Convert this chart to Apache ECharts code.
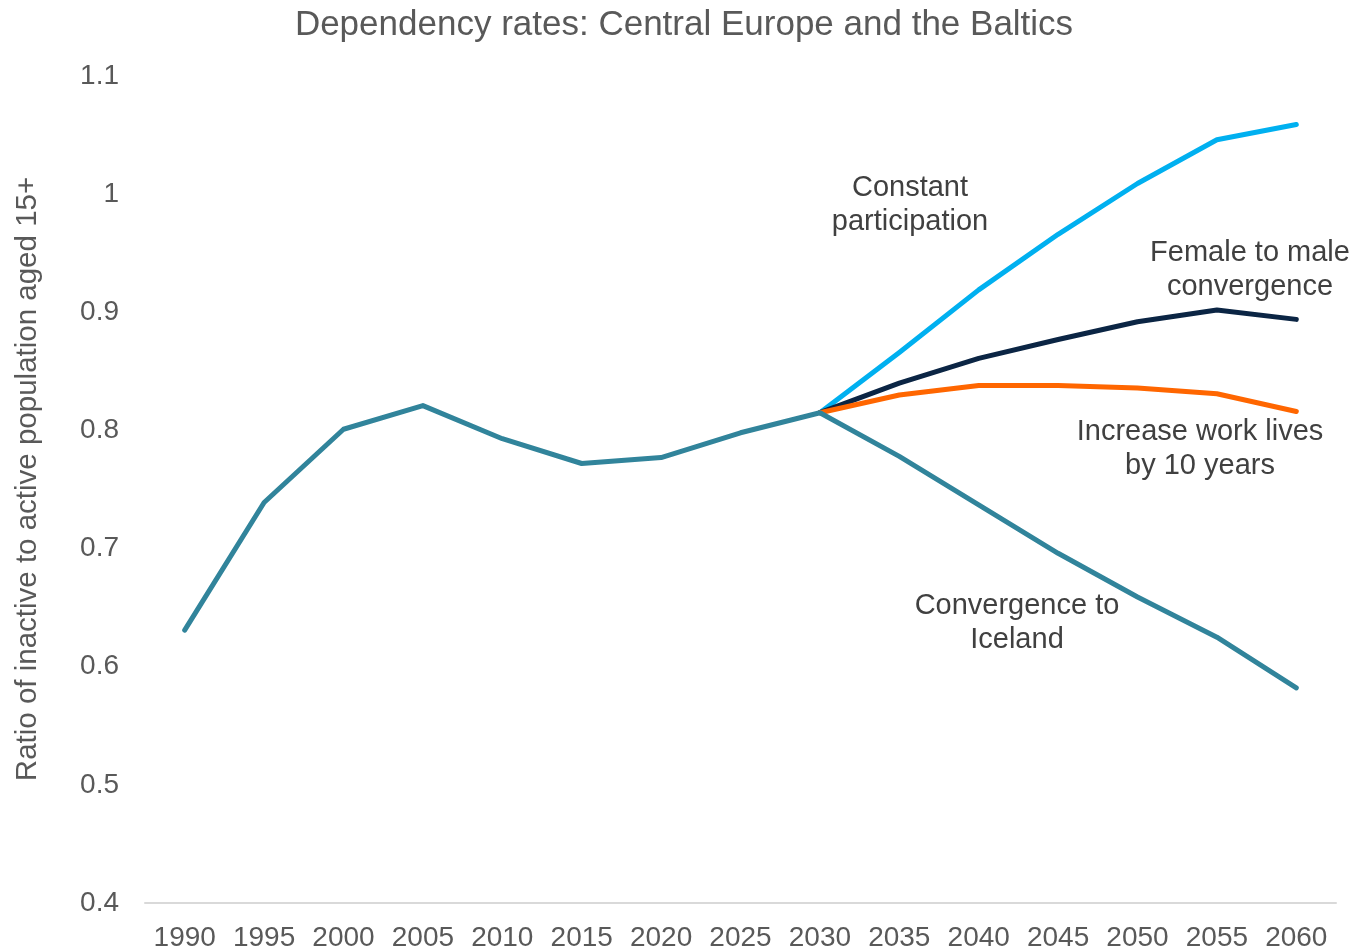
<!DOCTYPE html>
<html>
<head>
<meta charset="utf-8">
<title>Dependency rates: Central Europe and the Baltics</title>
<script src="https://cdn.jsdelivr.net/npm/echarts@6/dist/echarts.min.js"></script>
<style>
  html, body { margin: 0; padding: 0; background: #ffffff; }
  #chart { width: 1356px; height: 952px; }
</style>
</head>
<body>
<div id="chart"></div>
<script>
// Horizontal axis: five-year steps
const years = ['1990', '1995', '2000', '2005', '2010', '2015', '2020', '2025', '2030',
               '2035', '2040', '2045', '2050', '2055', '2060'];

// Observed / baseline path, 1990–2030
const historical = [0.631, 0.739, 0.801, 0.821, 0.793, 0.772, 0.777, 0.798, 0.815];

// Scenario paths, 2035–2060
const constantParticipation = [0.866, 0.919, 0.966, 1.009, 1.046, 1.059];
const femaleToMale          = [0.840, 0.861, 0.877, 0.892, 0.902, 0.894];
const workLivesPlus10       = [0.830, 0.838, 0.838, 0.836, 0.831, 0.816];
const icelandConvergence    = [0.778, 0.737, 0.696, 0.659, 0.625, 0.582];

// Value axis range and step
const yMin = 0.4;
const yMax = 1.1;
const yStep = 0.1;

// Scenario lines start from the last baseline year
const lead = historical.slice(0, -1).map(() => null);
const start = historical[historical.length - 1];
const scenario = vals => lead.concat([start], vals);

const FONT = 'Liberation Sans, Arial, sans-serif';

const lineSeries = (name, data, color, z) => ({
  name,
  type: 'line',
  data,
  z,
  symbol: 'none',
  smooth: false,
  connectNulls: false,
  lineStyle: { width: 5, color, cap: 'round', join: 'round' },
  itemStyle: { color },
  emphasis: { disabled: true }
});

const chart = echarts.init(document.getElementById('chart'), null, { renderer: 'canvas' });

// Series labels placed beside their lines
const notes = [
  { text: 'Constant\nparticipation', x: 910, y: 205 },
  { text: 'Female to male\nconvergence', x: 1250, y: 270 },
  { text: 'Increase work lives\nby 10 years', x: 1200, y: 449 },
  { text: 'Convergence to\nIceland', x: 1017, y: 623 }
];

chart.setOption({
  backgroundColor: '#ffffff',
  animation: false,
  grid: { left: 145, right: 20, top: 76, bottom: 49, containLabel: false },
  xAxis: {
    type: 'category',
    data: years,
    boundaryGap: true,
    axisLine: { show: true, lineStyle: { color: '#d9d9d9', width: 2 } },
    axisTick: { show: false },
    axisLabel: { fontFamily: FONT, fontSize: 28, color: '#595959', margin: 21, interval: 0 },
    splitLine: { show: false }
  },
  yAxis: {
    type: 'value',
    min: yMin,
    max: yMax,
    interval: yStep,
    axisLine: { show: false },
    axisTick: { show: false },
    splitLine: { show: false },
    axisLabel: {
      fontFamily: FONT, fontSize: 28, color: '#595959', margin: 26,
      formatter: v => String(Math.round(v * 10) / 10)
    }
  },
  series: [
    lineSeries('Constant participation', scenario(constantParticipation), '#00B0F0', 2),
    lineSeries('Female to male convergence', scenario(femaleToMale), '#0B2544', 3),
    lineSeries('Increase work lives by 10 years', scenario(workLivesPlus10), '#FF6600', 4),
    lineSeries('Convergence to Iceland', historical.concat(icelandConvergence), '#31849B', 5)
  ],
  graphic: [
    {
      // chart title
      type: 'text',
      x: 684,
      y: 25,
      style: {
        text: 'Dependency rates: Central Europe and the Baltics',
        align: 'center',
        verticalAlign: 'middle',
        fontFamily: FONT,
        fontSize: 35,
        fill: '#595959'
      }
    },
    {
      // vertical axis title
      type: 'text',
      x: 28,
      y: 479,
      rotation: Math.PI / 2,
      style: {
        text: 'Ratio of inactive to active population aged 15+',
        align: 'center',
        verticalAlign: 'middle',
        fontFamily: FONT,
        fontSize: 29.5,
        fill: '#595959'
      }
    }
  ].concat(notes.map(a => ({
    type: 'text',
    x: a.x,
    y: a.y,
    z: 10,
    style: {
      text: a.text,
      align: 'center',
      verticalAlign: 'middle',
      fontFamily: FONT,
      fontSize: 29,
      lineHeight: 34,
      fill: '#404040'
    }
  })))
});
</script>
</body>
</html>
